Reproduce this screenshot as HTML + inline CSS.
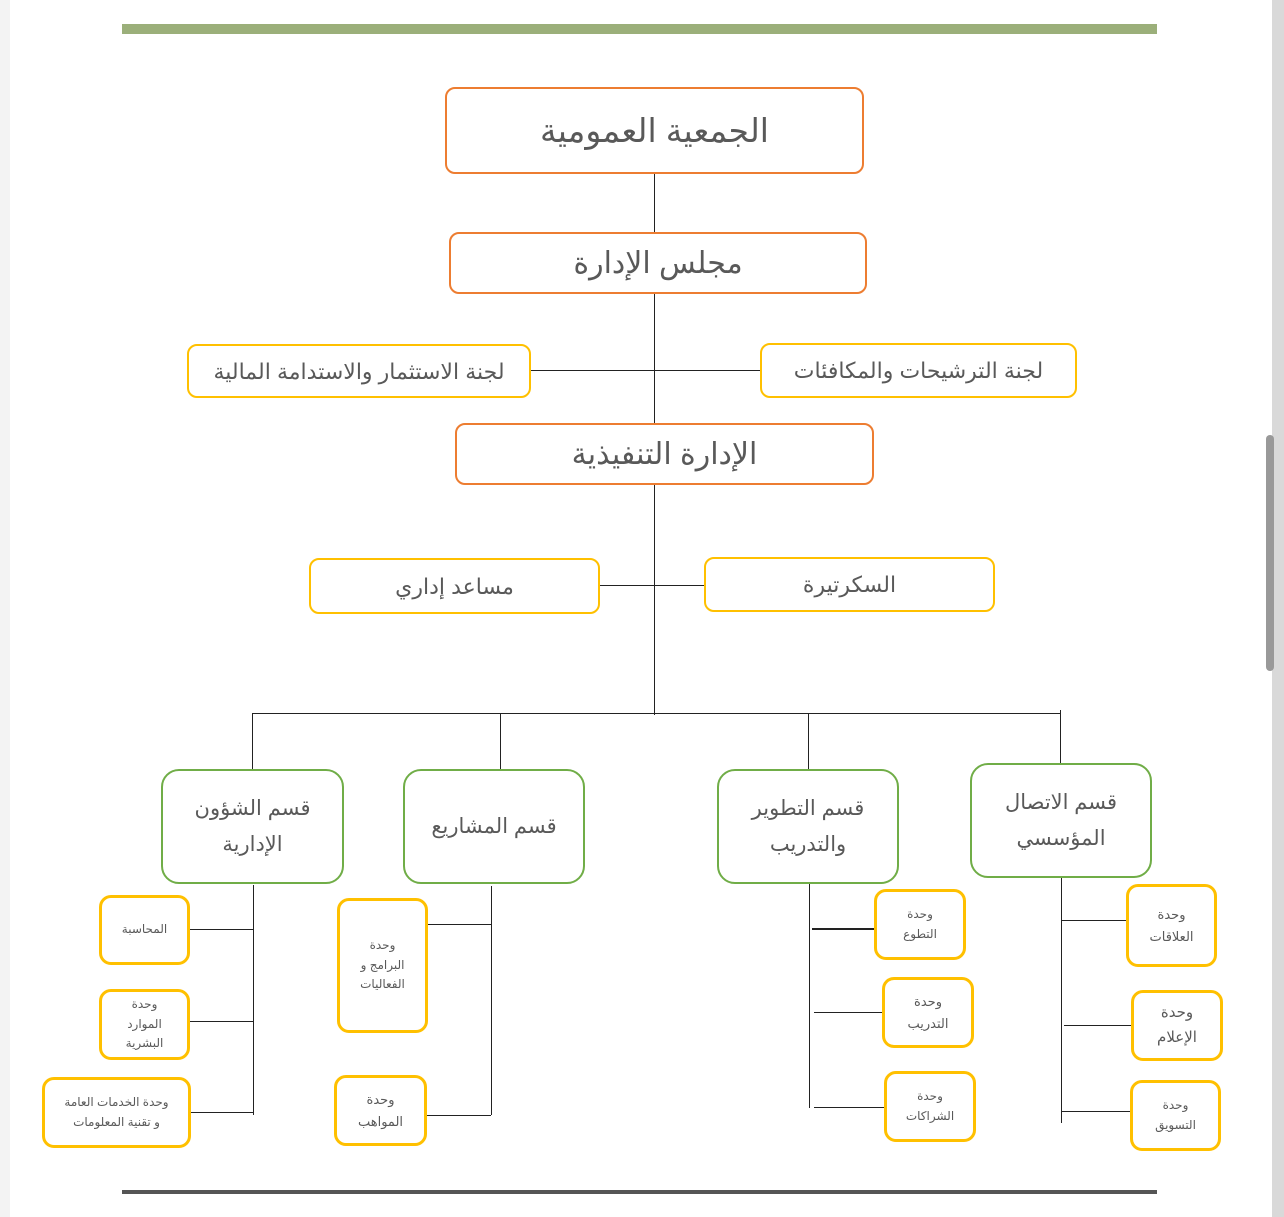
<!DOCTYPE html>
<html><head><meta charset="utf-8">
<style>
html,body{margin:0;padding:0;}
body{width:1284px;height:1217px;position:relative;background:#fff;overflow:hidden;font-family:"Liberation Sans","Noto Sans CJK SC","DejaVu Sans",sans-serif;color:#595959;}
.b{position:absolute;box-sizing:border-box;background:#fff;display:flex;align-items:center;justify-content:center;text-align:center;direction:rtl;line-height:1.5;}
.o{border:2.5px solid #ED7D31;border-radius:10px;}
.y{border:2.5px solid #FFC000;border-radius:10px;}
.g{border:2.5px solid #70AD47;border-radius:18px;font-size:21px;line-height:1.7;}
.s{border:3px solid #FFC000;border-radius:12px;font-size:12px;line-height:1.65;}
.h{position:absolute;height:1px;background:#222;}
.v{position:absolute;width:1px;background:#222;}
</style></head><body>
<div style="position:absolute;left:0;top:0;width:10px;height:1217px;background:#f3f3f3"></div>
<div style="position:absolute;left:1272px;top:0;width:12px;height:1217px;background:#d9d9d9"></div>
<div style="position:absolute;left:1266px;top:435px;width:8px;height:236px;background:#999;border-radius:4px"></div>
<div style="position:absolute;left:122px;top:24px;width:1035px;height:10px;background:#9BAF7A"></div>
<div style="position:absolute;left:122px;top:1190px;width:1035px;height:4px;background:#555"></div>

<!-- connectors -->
<div class="v" style="left:654px;top:173px;height:542px"></div>
<div class="h" style="left:530px;top:370px;width:230px"></div>
<div class="h" style="left:599px;top:585px;width:105px"></div>
<div class="h" style="left:252px;top:713px;width:809px"></div>
<div class="v" style="left:252px;top:713px;height:56px"></div>
<div class="v" style="left:500px;top:713px;height:56px"></div>
<div class="v" style="left:808px;top:713px;height:56px"></div>
<div class="v" style="left:1060px;top:710px;height:53px"></div>

<div class="v" style="left:253px;top:885px;height:230px"></div>
<div class="h" style="left:189px;top:929px;width:64px"></div>
<div class="h" style="left:189px;top:1021px;width:64px"></div>
<div class="h" style="left:190px;top:1112px;width:64px"></div>

<div class="v" style="left:491px;top:886px;height:229px"></div>
<div class="h" style="left:427px;top:924px;width:64px"></div>
<div class="h" style="left:426px;top:1115px;width:65px"></div>

<div class="v" style="left:809px;top:880px;height:228px"></div>
<div class="h" style="left:812px;top:928px;width:62px;height:2px"></div>
<div class="h" style="left:814px;top:1012px;width:68px"></div>
<div class="h" style="left:814px;top:1107px;width:70px"></div>

<div class="v" style="left:1061px;top:877px;height:246px"></div>
<div class="h" style="left:1062px;top:920px;width:64px"></div>
<div class="h" style="left:1064px;top:1025px;width:67px"></div>
<div class="h" style="left:1062px;top:1111px;width:68px"></div>

<!-- boxes -->
<div class="b o" style="left:445px;top:87px;width:419px;height:87px;font-size:33px">الجمعية العمومية</div>
<div class="b o" style="left:449px;top:232px;width:418px;height:62px;font-size:30px">مجلس الإدارة</div>
<div class="b y" style="left:187px;top:344px;width:344px;height:54px;font-size:22px">لجنة الاستثمار والاستدامة المالية</div>
<div class="b y" style="left:760px;top:343px;width:317px;height:55px;font-size:22px">لجنة الترشيحات والمكافئات</div>
<div class="b o" style="left:455px;top:423px;width:419px;height:62px;font-size:30px">الإدارة التنفيذية</div>
<div class="b y" style="left:309px;top:558px;width:291px;height:56px;font-size:22px">مساعد إداري</div>
<div class="b y" style="left:704px;top:557px;width:291px;height:55px;font-size:22px">السكرتيرة</div>

<div class="b g" style="left:161px;top:769px;width:183px;height:115px">قسم الشؤون<br>الإدارية</div>
<div class="b g" style="left:403px;top:769px;width:182px;height:115px">قسم المشاريع</div>
<div class="b g" style="left:717px;top:769px;width:182px;height:115px">قسم التطوير<br>والتدريب</div>
<div class="b g" style="left:970px;top:763px;width:182px;height:115px">قسم الاتصال<br>المؤسسي</div>

<div class="b s" style="left:99px;top:895px;width:91px;height:70px">المحاسبة</div>
<div class="b s" style="left:99px;top:989px;width:91px;height:71px">وحدة<br>الموارد<br>البشرية</div>
<div class="b s" style="left:42px;top:1077px;width:149px;height:71px">وحدة الخدمات العامة<br>و تقنية المعلومات</div>
<div class="b s" style="left:337px;top:898px;width:91px;height:135px">وحدة<br>البرامج و<br>الفعاليات</div>
<div class="b s" style="left:334px;top:1075px;width:93px;height:71px;font-size:13px">وحدة<br>المواهب</div>
<div class="b s" style="left:874px;top:889px;width:92px;height:71px">وحدة<br>التطوع</div>
<div class="b s" style="left:882px;top:977px;width:92px;height:71px;font-size:13px">وحدة<br>التدريب</div>
<div class="b s" style="left:884px;top:1071px;width:92px;height:71px">وحدة<br>الشراكات</div>
<div class="b s" style="left:1126px;top:884px;width:91px;height:83px;font-size:13px">وحدة<br>العلاقات</div>
<div class="b s" style="left:1131px;top:990px;width:92px;height:71px;font-size:15px">وحدة<br>الإعلام</div>
<div class="b s" style="left:1130px;top:1080px;width:91px;height:71px">وحدة<br>التسويق</div>
</body></html>
